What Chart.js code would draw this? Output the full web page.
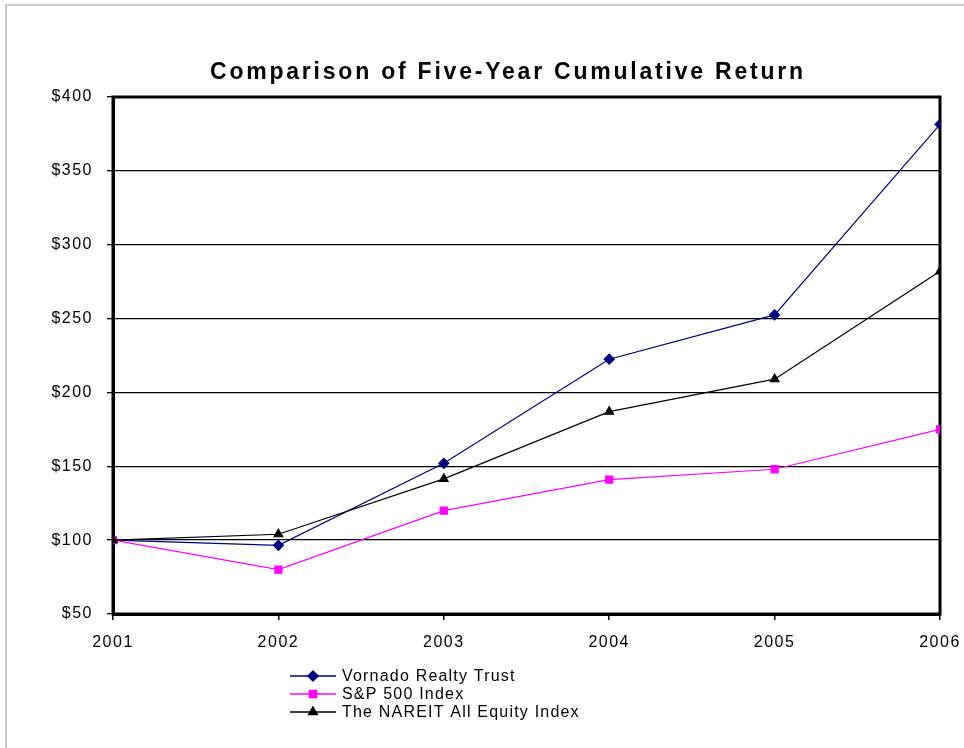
<!DOCTYPE html>
<html>
<head>
<meta charset="utf-8">
<script src="https://cdn.jsdelivr.net/npm/chart.js@4.4.1/dist/chart.umd.min.js"></script>
<style>
  html, body { margin: 0; padding: 0; background: #fff; }
  #frame { position: absolute; left: 5px; top: 4px; width: 970px; height: 760px;
           border-left: 2px solid #c8c8c8; border-top: 2px solid #c8c8c8; }
  canvas { position: absolute; left: 0; top: 0; }
</style>
</head>
<body>
<div id="frame"></div>
<canvas id="miGrafico" width="964" height="748"></canvas>
<script>
const titulo = 'Comparison of Five-Year Cumulative Return';
const anios = [2001, 2002, 2003, 2004, 2005, 2006];
const vornado = [100, 96.5, 152, 222.5, 252.5, 381.5];
const sp500 = [100, 80, 120, 141, 148, 175];
const nareit = [100, 104, 141.5, 187, 209, 282];
const ticksY = [50, 100, 150, 200, 250, 300, 350, 400];

const fuente = "'Liberation Sans', Arial, sans-serif";

function puntos(valores) {
    return anios.map((a, i) => ({ x: a, y: valores[i] }));
}

// marco del area de trazado, titulo y leyenda
const extras = {
    id: 'extras',
    beforeDraw(chart) {
        chart.ctx.letterSpacing = '1.5px';
    },
    beforeDatasetsDraw(chart) {
        const { ctx, chartArea: a } = chart;
        ctx.save();
        ctx.letterSpacing = '0px';
        ctx.strokeStyle = '#000';
        ctx.lineWidth = 3;
        ctx.strokeRect(a.left, a.top, a.right - a.left, a.bottom - a.top);
        ctx.restore();
    },
    afterDraw(chart) {
        const ctx = chart.ctx;
        ctx.save();
        // titulo
        ctx.font = 'bold 23px ' + fuente;
        ctx.letterSpacing = '0px';
        const ancho = ctx.measureText(titulo).width;
        const esp = Math.max(0, (593 - ancho) / (titulo.length - 1));
        ctx.letterSpacing = esp + 'px';
        ctx.fillStyle = '#000';
        ctx.textAlign = 'left';
        ctx.textBaseline = 'alphabetic';
        ctx.fillText(titulo, 210, 79);

        // leyenda
        ctx.font = '16px ' + fuente;
        ctx.letterSpacing = '1.2px';
        ctx.textBaseline = 'middle';
        const filas = [676, 694, 712];
        chart.data.datasets.forEach((ds, i) => {
            const y = filas[i];
            ctx.strokeStyle = ds.borderColor;
            ctx.lineWidth = 1.5;
            ctx.beginPath();
            ctx.moveTo(290, y);
            ctx.lineTo(336, y);
            ctx.stroke();
            ctx.fillStyle = ds.pointBackgroundColor;
            ctx.strokeStyle = ds.pointBorderColor;
            Chart.helpers.drawPoint(ctx, {
                pointStyle: ds.pointStyle, radius: ds.pointRadius, rotation: 0, borderWidth: 1
            }, 313, y);
            ctx.fillStyle = '#000';
            ctx.fillText(ds.label, 342, y + 1);
        });
        ctx.restore();
    }
};

const ctx = document.getElementById('miGrafico').getContext('2d');
new Chart(ctx, {
    type: 'line',
    data: {
        datasets: [{
            label: 'Vornado Realty Trust',
            data: puntos(vornado),
            borderColor: '#000080',
            borderWidth: 1.2,
            pointStyle: 'rectRot',
            pointRadius: 5,
            pointBackgroundColor: '#000080',
            pointBorderColor: '#000080',
            order: 3
        }, {
            label: 'S&P 500 Index',
            data: puntos(sp500),
            borderColor: '#ff00ff',
            borderWidth: 1.2,
            pointStyle: 'rect',
            pointRadius: 5,
            pointBackgroundColor: '#ff00ff',
            pointBorderColor: '#ff00ff',
            order: 2
        }, {
            label: 'The NAREIT All Equity Index',
            data: puntos(nareit),
            borderColor: '#000000',
            borderWidth: 1.2,
            pointStyle: 'triangle',
            pointRadius: 5,
            pointBackgroundColor: '#000000',
            pointBorderColor: '#000000',
            order: 1
        }]
    },
    options: {
        responsive: false,
        animation: false,
        layout: { padding: { left: 0, top: 97, right: 24, bottom: 0 } },
        plugins: {
            legend: { display: false },
            title: { display: false },
            tooltip: { enabled: false }
        },
        scales: {
            x: {
                type: 'linear',
                min: anios[0],
                max: anios[anios.length - 1],
                afterBuildTicks(scale) {
                    scale.ticks = anios.map(v => ({ value: v }));
                },
                afterFit(scale) {
                    scale.height = 134;
                    scale.paddingLeft = 0;
                    scale.paddingRight = 0;
                },
                grid: { drawOnChartArea: false, drawTicks: true, tickLength: 6, color: '#000', lineWidth: 1.5 },
                border: { color: '#000', width: 3 },
                ticks: {
                    color: '#000',
                    padding: 13,
                    font: { family: fuente, size: 16 },
                    callback: v => String(v)
                }
            },
            y: {
                min: ticksY[0],
                max: ticksY[ticksY.length - 1],
                afterBuildTicks(scale) {
                    scale.ticks = ticksY.map(v => ({ value: v }));
                },
                afterFit(scale) {
                    scale.width = 113;
                    scale.paddingTop = 0;
                    scale.paddingBottom = 0;
                },
                grid: { color: '#000', lineWidth: 1.3, tickLength: 6 },
                border: { color: '#000', width: 3 },
                ticks: {
                    color: '#000',
                    padding: 14,
                    font: { family: fuente, size: 16 },
                    callback: v => '$' + v
                }
            }
        }
    },
    plugins: [extras]
});
</script>
</body>
</html>
